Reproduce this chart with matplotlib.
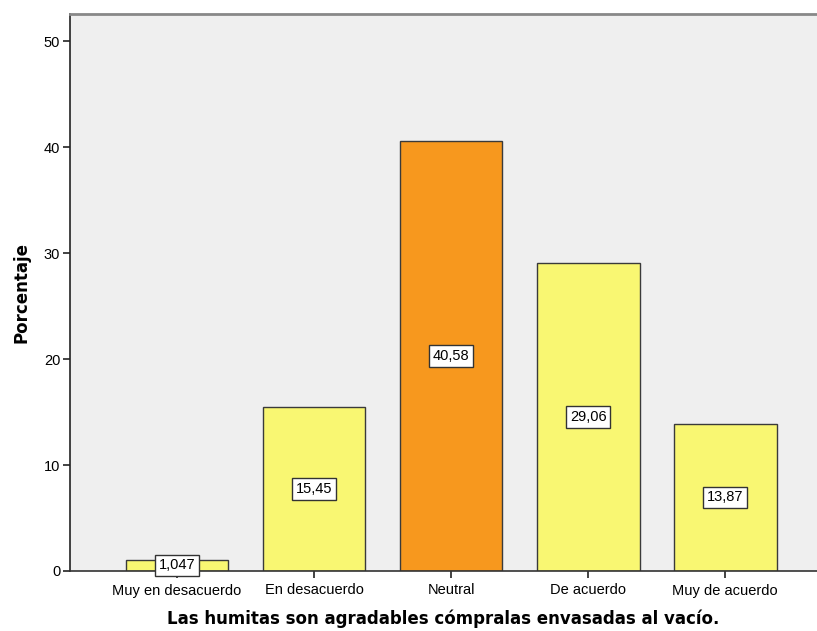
import matplotlib
matplotlib.use("Agg")
import matplotlib.pyplot as plt

categories = ["Muy en desacuerdo", "En desacuerdo", "Neutral", "De acuerdo", "Muy de acuerdo"]
values = [1.047, 15.45, 40.58, 29.06, 13.87]
value_labels = ["1,047", "15,45", "40,58", "29,06", "13,87"]
highlight = "Neutral"

y_ticks = [0, 10, 20, 30, 40, 50]

plt.rcParams["font.family"] = ["Liberation Sans", "DejaVu Sans"]

W, H = 817, 631
fig = plt.figure(figsize=(W / 100, H / 100), dpi=100)
ax = fig.add_axes([70 / W, (H - 571) / H, (817 - 70) / W, (571 - 14) / H])
ax.set_facecolor("#efefef")

yellow = "#f9f772"
orange = "#f7981e"
colors = [orange if c == highlight else yellow for c in categories]
x = list(range(len(categories)))
ax.bar(x, values, width=0.75, color=colors, edgecolor="#3a3a3a", linewidth=1.0, zorder=2)

for xi, v, lab in zip(x, values, value_labels):
    ax.text(xi, v / 2, lab, ha="center", va="center", fontsize=10.5, color="#000000",
            bbox=dict(boxstyle="square,pad=0.25", facecolor="white", edgecolor="#333333", linewidth=1.0),
            zorder=3)

ax.set_xlim(-0.78, 4.67)
ax.set_ylim(0, 52.55)
ax.set_xticks(x)
ax.set_xticklabels(categories, fontsize=10.5)
ax.set_yticks(y_ticks)
ax.set_yticklabels([str(t) for t in y_ticks], fontsize=10.5)
ax.tick_params(axis="x", direction="out", length=5, width=1.2, color="#222222", pad=4)
ax.tick_params(axis="y", direction="out", length=5, width=1.2, color="#222222", pad=2)

ax.spines["right"].set_visible(False)
ax.spines["top"].set_color("#888888")
ax.spines["top"].set_linewidth(2)
ax.spines["left"].set_color("#222222")
ax.spines["left"].set_linewidth(1.2)
ax.spines["bottom"].set_color("#333333")
ax.spines["bottom"].set_linewidth(1.2)

ax.set_xlabel("Las humitas son agradables cómpralas envasadas al vacío.",
              fontsize=12, fontweight="bold", family="DejaVu Sans", labelpad=9)
ax.set_ylabel("Porcentaje", fontsize=12, fontweight="bold", family="DejaVu Sans", labelpad=10)

fig.savefig("out.png", dpi=100)
